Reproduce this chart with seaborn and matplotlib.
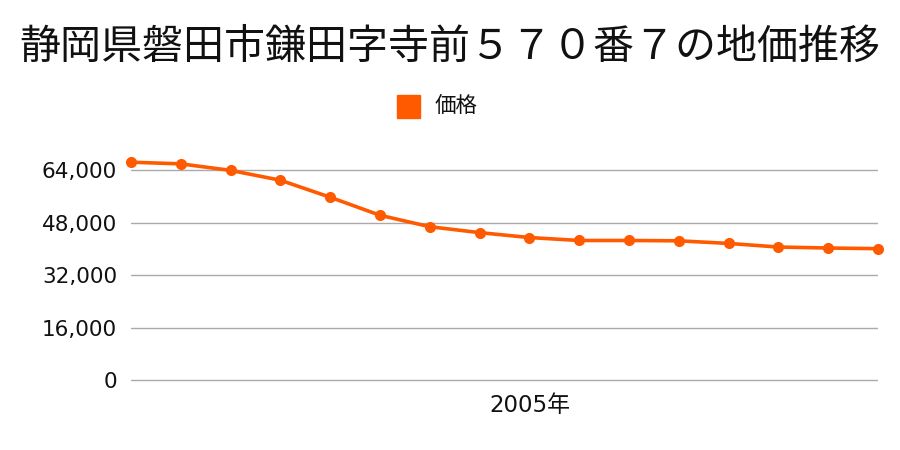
import matplotlib
matplotlib.use("Agg")
import matplotlib.pyplot as plt
import seaborn as sns
import pandas as pd

title = "静岡県磐田市鎌田字寺前５７０番７の地価推移"
series_name = "価格"
years = list(range(1997, 2013))
prices = [66500, 66000, 64000, 61000, 55800, 50300, 46800, 45000,
          43500, 42600, 42600, 42500, 41700, 40600, 40300, 40100]
yticks = [0, 16000, 32000, 48000, 64000]
xtick_year = 2005
xtick_label = "2005年"

sns.set_theme(style="white")
plt.rcParams['font.family'] = ['Noto Sans CJK JP', 'DejaVu Sans']
tick_fam = ['DejaVu Sans', 'Noto Sans CJK JP']

df = pd.DataFrame({"idx": range(len(years)), "year": years, "price": prices})

fig = plt.figure(figsize=(9, 4.5), dpi=100)
ymin, ymax = -600, 67200
px_per_unit = 52.4 / 16000
bottom_px = 380 + (-ymin) * px_per_unit
top_px = 380 - ymax * px_per_unit
ax = fig.add_axes([131/900, 1-bottom_px/450, (878-131)/900, (bottom_px-top_px)/450])

sns.lineplot(data=df, x="idx", y="price", ax=ax, color="#FF5A00", linewidth=2.6,
             marker="o", markersize=8, markeredgewidth=0, clip_on=False, zorder=3)

ax.set_xlim(0, len(years)-1)
ax.set_ylim(ymin, ymax)
ax.set_yticks(yticks)
ax.set_yticklabels([f"{v:,}" for v in yticks], fontsize=15.5, family=tick_fam, color="#111111")
ax.yaxis.grid(True, color="#aaaaaa", linewidth=1)
ax.set_xticks([years.index(xtick_year)])
ax.set_xticklabels([xtick_label], fontsize=16.5, family=tick_fam, color="#111111")
ax.tick_params(axis='x', length=0, pad=9)
ax.tick_params(axis='y', length=0, pad=10)
for s in ax.spines.values():
    s.set_visible(False)
ax.set_xlabel("")
ax.set_ylabel("")

fig.text(0.5, 1-47/450, title, ha="center", va="center", fontsize=29.5, color="#111111")
fig.patches.append(plt.Rectangle((397/900, 1-118/450), 23/900, 23/450,
                                 transform=fig.transFigure, color="#FF5A00", figure=fig))
fig.text(435/900, 1-106/450, series_name, ha="left", va="center", fontsize=15.5, color="#111111")

fig.savefig("out.png", dpi=100)
